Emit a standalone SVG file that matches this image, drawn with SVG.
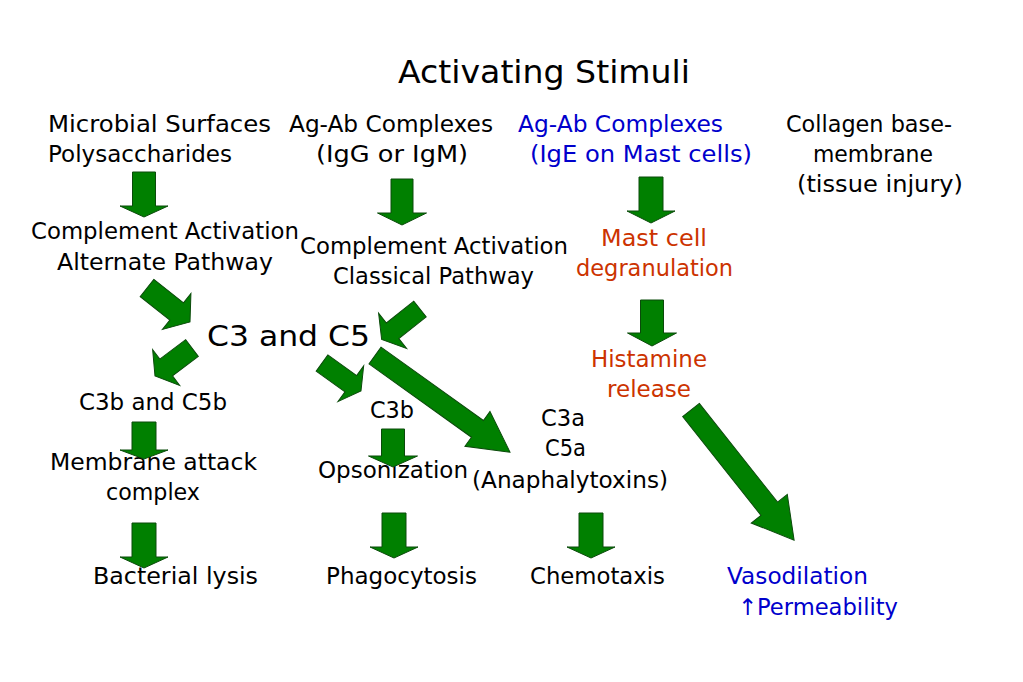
<svg xmlns="http://www.w3.org/2000/svg" width="1023" height="682" viewBox="0 0 1023 682">
<style>
text{font-family:"DejaVu Sans","Liberation Sans",sans-serif;font-size:23px;fill:#000}
.m{text-anchor:middle}
.b{fill:#0000cc}
.r{fill:#cc3300}
.arr polygon{fill:#008000;stroke:#0b4a0b;stroke-width:1;stroke-linejoin:miter}
</style>
<rect width="1023" height="682" fill="#fff"/>
<g id="title"><text class="m" x="544" y="83" style="font-size:32px" textLength="292" lengthAdjust="spacingAndGlyphs">Activating Stimuli</text></g>
<g id="microbial"><text x="48" y="132" textLength="223" lengthAdjust="spacingAndGlyphs">Microbial Surfaces</text><text x="48" y="162" textLength="184" lengthAdjust="spacingAndGlyphs">Polysaccharides</text></g>
<g id="agab-igg"><text class="m" x="391" y="132" textLength="204" lengthAdjust="spacingAndGlyphs">Ag-Ab Complexes</text><text class="m" x="392" y="162" textLength="152" lengthAdjust="spacingAndGlyphs">(IgG or IgM)</text></g>
<g id="agab-ige"><text class="b" x="518" y="132" textLength="205" lengthAdjust="spacingAndGlyphs">Ag-Ab Complexes</text><text class="b" x="530" y="162" textLength="222" lengthAdjust="spacingAndGlyphs">(IgE on Mast cells)</text></g>
<g id="collagen"><text class="m" x="869" y="132" textLength="166" lengthAdjust="spacingAndGlyphs">Collagen base-</text><text class="m" x="873" y="162" textLength="120" lengthAdjust="spacingAndGlyphs">membrane</text><text class="m" x="880" y="192" textLength="166" lengthAdjust="spacingAndGlyphs">(tissue injury)</text></g>
<g id="alternate"><text class="m" x="165" y="239" textLength="268" lengthAdjust="spacingAndGlyphs">Complement Activation</text><text class="m" x="165" y="270" textLength="216" lengthAdjust="spacingAndGlyphs">Alternate Pathway</text></g>
<g id="classical"><text class="m" x="434" y="254" textLength="268" lengthAdjust="spacingAndGlyphs">Complement Activation</text><text class="m" x="433.5" y="284" textLength="201" lengthAdjust="spacingAndGlyphs">Classical Pathway</text></g>
<g id="mastcell"><text class="m r" x="654" y="246" textLength="106" lengthAdjust="spacingAndGlyphs">Mast cell</text><text class="m r" x="654.5" y="276" textLength="157" lengthAdjust="spacingAndGlyphs">degranulation</text></g>
<g id="c3c5"><text x="207" y="346" style="font-size:29px" textLength="163" lengthAdjust="spacingAndGlyphs">C3 and C5</text></g>
<g id="histamine"><text class="m r" x="649" y="367" textLength="116" lengthAdjust="spacingAndGlyphs">Histamine</text><text class="m r" x="649" y="397" textLength="84" lengthAdjust="spacingAndGlyphs">release</text></g>
<g id="c3bc5b"><text class="m" x="153" y="410" textLength="148" lengthAdjust="spacingAndGlyphs">C3b and C5b</text></g>
<g id="c3b"><text class="m" x="392" y="418" textLength="44" lengthAdjust="spacingAndGlyphs">C3b</text></g>
<g id="anaphylatoxins"><text class="m" x="563" y="426" textLength="44" lengthAdjust="spacingAndGlyphs">C3a</text><text class="m" x="565.5" y="456" textLength="41" lengthAdjust="spacingAndGlyphs">C5a</text><text class="m" x="570" y="488" textLength="196" lengthAdjust="spacingAndGlyphs">(Anaphalytoxins)</text></g>
<g id="mac"><text class="m" x="153.5" y="470" textLength="207" lengthAdjust="spacingAndGlyphs">Membrane attack</text><text class="m" x="153" y="500" textLength="94" lengthAdjust="spacingAndGlyphs">complex</text></g>
<g id="opsonization"><text class="m" x="393" y="478" textLength="150" lengthAdjust="spacingAndGlyphs">Opsonization</text></g>
<g id="lysis"><text class="m" x="175.5" y="584" textLength="165" lengthAdjust="spacingAndGlyphs">Bacterial lysis</text></g>
<g id="phagocytosis"><text class="m" x="401.5" y="584" textLength="151" lengthAdjust="spacingAndGlyphs">Phagocytosis</text></g>
<g id="chemotaxis"><text class="m" x="597.5" y="584" textLength="135" lengthAdjust="spacingAndGlyphs">Chemotaxis</text></g>
<g id="vasodilation"><text class="b" x="727" y="584" textLength="141" lengthAdjust="spacingAndGlyphs">Vasodilation</text><text class="b" x="738" y="615" textLength="160" lengthAdjust="spacingAndGlyphs">↑Permeability</text></g>
<g id="connectors" class="arr">
<polygon points="132.5,172 155.5,172 155.5,206 168,206 144,217 120,206 132.5,206"/>
<polygon points="391,179 413,179 413,213 426.5,213 402,225 377.5,213 391,213"/>
<polygon points="639,177 663,177 663,211 675,211 651,223 627,211 639,211"/>
<polygon points="640.5,300 663.5,300 663.5,333 676.5,333 652,346 627.5,333 640.5,333"/>
<polygon points="132,422 156,422 156,450 168,450 144,459 120,450 132,450"/>
<polygon points="132,523 156,523 156,557 168,557 144,568 120,557 132,557"/>
<polygon points="381.5,429 404.5,429 404.5,456 417.5,456 393,467 368.5,456 381.5,456"/>
<polygon points="382,513 406,513 406,547 418,547 394,558 370,547 382,547"/>
<polygon points="579,513 603,513 603,547 615,547 591,558 567,547 579,547"/>
<polygon transform="translate(147,288) rotate(38.3)" points="0,-11 37.8,-11 37.8,-23 54.8,0 37.8,23 37.8,11 0,11"/>
<polygon transform="translate(420,309) rotate(141.5)" points="0,-10 35,-10 35,-22.5 49,0 35,22.5 35,10 0,10"/>
<polygon transform="translate(192,348) rotate(142.9)" points="0,-10.5 32.4,-10.5 32.4,-22.4 46.4,0 32.4,22.4 32.4,10.5 0,10.5"/>
<polygon transform="translate(322,363) rotate(35.7)" points="0,-10 35.5,-10 35.5,-22 48,0 35.5,22 35.5,10 0,10"/>
<polygon transform="translate(375,355.5) rotate(35.6)" points="0,-10.3 126,-10.3 126,-21.5 166,0 126,21.5 126,10.3 0,10.3"/>
<polygon transform="translate(691,410) rotate(51.6)" points="0,-10.6 126,-10.6 126,-23 166,0 126,23 126,10.6 0,10.6"/>
</g>
</svg>
